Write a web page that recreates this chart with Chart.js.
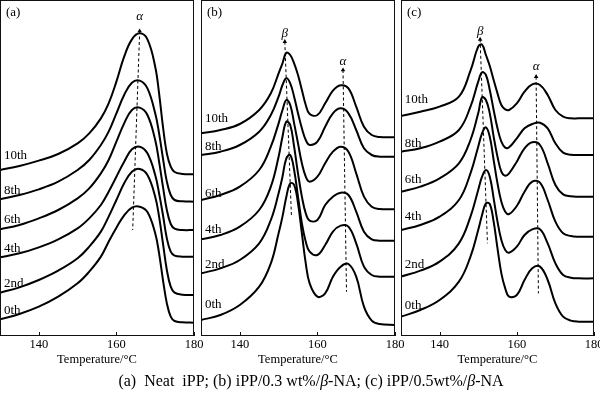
<!DOCTYPE html>
<html><head><meta charset="utf-8">
<script src="https://cdn.jsdelivr.net/npm/chart.js@4"></script>
<style>
html,body{margin:0;padding:0;background:#fff;}
#wrap{position:relative;width:600px;height:397px;overflow:hidden;background:#fff;}
canvas{position:absolute;left:0;top:0;}
#cap{position:absolute;left:311px;top:372px;transform:translateX(-50%);font:16px "Liberation Serif","Times New Roman",serif;color:#000;white-space:pre;line-height:18px;}
</style></head><body>
<div id="wrap">
<canvas id="ca" width="600" height="397"></canvas>
<canvas id="cb" width="600" height="397"></canvas>
<canvas id="cc" width="600" height="397"></canvas>
<div id="cap">(a)  Neat  iPP; (b) iPP/0.3 wt%/<i>β</i>-NA; (c) iPP/0.5wt%/<i>β</i>-NA</div>
</div>
<script>
// ---- data (temperature in °C, heat flow in arbitrary units, curves offset) ----
const cycles = ['0th','2nd','4th','6th','8th','10th'];
const tickVals = [140,160,180];

const tempA = [130,135,140,145,150,153,156,158,160,162,164,166,168,170,171,172,173,174,175,177,180];
const a0th  = [50,66,88,118,158,193,238,283,325,362,385,388,372,308,248,168,98,58,45,41,40];
const a2nd  = [130,146,168,196,233,268,313,358,408,458,493,501,483,418,358,278,198,148,130,124,123];
const a4th  = [236,248,266,290,323,353,393,433,478,523,560,568,548,483,428,363,293,253,241,238,238];
const a6th  = [320,333,353,378,413,443,488,528,583,638,678,685,663,588,523,448,378,336,322,318,318];
const a8th  = [410,423,440,463,498,528,573,613,668,723,760,766,743,668,608,533,463,423,408,404,403];
const a10th = [498,510,526,546,578,608,653,698,763,838,890,908,890,808,728,628,548,508,492,486,485];

const tempBC = [130,135,140,145,148,150,151,152,153,154,155,156,157,158,160,162,164,166,168,170,172,174,176,180];
const b0th  = [48,63,93,148,218,308,358,418,458,453,398,308,218,158,118,128,178,208,216,178,88,46,36,33];
const b2nd  = [188,203,228,278,348,428,478,533,543,498,418,338,283,253,243,273,313,331,328,278,208,183,178,178];
const b4th  = [290,303,328,378,448,538,598,643,633,568,488,418,368,346,348,393,418,430,423,373,313,290,286,286];
const b6th  = [408,423,448,498,568,638,678,708,693,638,578,518,478,463,478,518,553,568,553,488,418,388,381,380];
const b8th  = [543,553,573,613,663,718,753,773,758,718,668,623,588,573,583,628,668,683,668,618,563,543,538,538];
const b10th = [608,618,636,678,728,788,818,850,843,818,783,738,693,666,663,698,736,752,743,688,628,603,597,596];

const c0th  = [58,78,108,163,238,318,363,398,396,343,263,188,143,118,123,168,203,208,168,98,58,46,43,43];
const c2nd  = [178,196,223,278,358,438,478,498,478,413,343,288,258,250,268,303,320,320,278,218,183,175,173,173];
const c4th  = [318,333,358,408,488,568,608,626,598,528,458,403,373,366,390,433,463,460,408,343,308,300,298,298];
const c6th  = [433,448,473,518,588,668,716,708,668,598,538,493,481,488,523,563,581,573,518,453,425,419,418,418];
const c8th  = [553,563,583,618,688,763,791,783,738,678,623,583,565,566,593,623,636,640,623,578,550,544,543,543];
const c10th = [660,673,688,718,796,868,874,843,810,768,728,693,680,678,698,733,755,753,723,678,658,653,653,653];

// cycle label anchors (value level for each curve label: 0th..10th)
const labelT = 131;
const labelYA = [76,158,263,348,436,540];
const labelYB = [93,213,318,428,568,653];
const labelYC = [90,213,358,468,578,708];

// peak markers: [symbol, topT, topValue, bottomT, bottomValue, symbolValue]
const marksA = [['α',166.0,915,164.2,318,958]];
const marksB = [['β',151.6,883,153.3,363,908],['α',166.6,798,167.5,133,823]];
const marksC = [['β',150.5,890,152.4,278,913],['α',165.0,778,165.6,128,808]];

const FONT = '"Liberation Serif","Times New Roman",serif';

const deco = {
  id:'deco',
  afterDatasetsDraw(chart, args, o) {
    const {ctx, chartArea:a, scales:{x,y}} = chart;
    ctx.save();
    ctx.strokeStyle = '#111'; ctx.lineWidth = 1;
    ctx.strokeRect(a.left+0.5, a.top+0.5, a.right-a.left-1, a.bottom-a.top-1);
    ctx.beginPath();
    tickVals.forEach(v => { const px = Math.round(x.getPixelForValue(v))+0.5; ctx.moveTo(px, a.bottom); ctx.lineTo(px, a.bottom-4); });
    ctx.stroke();
    ctx.fillStyle = '#000';
    ctx.font = '13px ' + FONT;
    ctx.textBaseline = 'middle'; ctx.textAlign = 'left';
    cycles.forEach((c,i) => ctx.fillText(c, x.getPixelForValue(labelT), y.getPixelForValue(o.labelY[i])));
    ctx.fillText(o.panel, a.left+6, a.top+13);
    ctx.font = 'italic 13px ' + FONT;
    ctx.textAlign = 'center';
    o.marks.forEach(m => ctx.fillText(m[0], x.getPixelForValue(m[1]), y.getPixelForValue(m[5])));
    ctx.restore();
  }
};

function makeChart(id, pad, temps, series, labelY, marks, panel) {
  const datasets = series.map(s => ({
    data: temps.map((t,k) => ({x:t, y:s[k]})),
    borderColor:'#000', borderWidth:2, pointRadius:0, pointHoverRadius:0, pointHitRadius:0,
    tension:0.4, fill:false
  }));
  marks.forEach(m => datasets.push({
    data:[{x:m[1], y:m[2]}, {x:m[3], y:m[4]}],
    borderColor:'#000', borderWidth:1, borderDash:[3,2.5],
    pointRadius:[2.6,0], pointHoverRadius:0, pointHitRadius:0, pointStyle:'triangle', pointBackgroundColor:'#000',
    pointBorderWidth:0, tension:0, fill:false
  }));
  new Chart(document.getElementById(id), {
    type:'line',
    data:{datasets},
    options:{
      responsive:false, animation:false, devicePixelRatio:1,
      events:[],
      layout:{padding:pad, autoPadding:false},
      plugins:{legend:{display:false}, tooltip:{enabled:false}, deco:{labelY, marks, panel}},
      scales:{
        x:{
          type:'linear', min:130, max:180,
          afterBuildTicks: s => { s.ticks = tickVals.map(v => ({value:v})); },
          afterFit: s => { s.height = 61; s.paddingLeft = 0; s.paddingRight = 0; },
          grid:{display:false, drawTicks:false}, border:{display:false},
          ticks:{color:'#000', font:{family:FONT, size:12.5}, padding:1, maxRotation:0, autoSkip:false},
          title:{display:true, text:'Temperature/°C', color:'#000', font:{family:FONT, size:12.5}, padding:{top:0, bottom:30}}
        },
        y:{display:false, min:0, max:1008}
      }
    },
    plugins:[deco]
  });
}

makeChart('ca', {left:0, right:406, top:0, bottom:0}, tempA, [a0th,a2nd,a4th,a6th,a8th,a10th], labelYA, marksA, '(a)');
makeChart('cb', {left:201, right:205, top:0, bottom:0}, tempBC, [b0th,b2nd,b4th,b6th,b8th,b10th], labelYB, marksB, '(b)');
makeChart('cc', {left:401, right:6, top:0, bottom:0}, tempBC, [c0th,c2nd,c4th,c6th,c8th,c10th], labelYC, marksC, '(c)');
</script>
</body></html>
